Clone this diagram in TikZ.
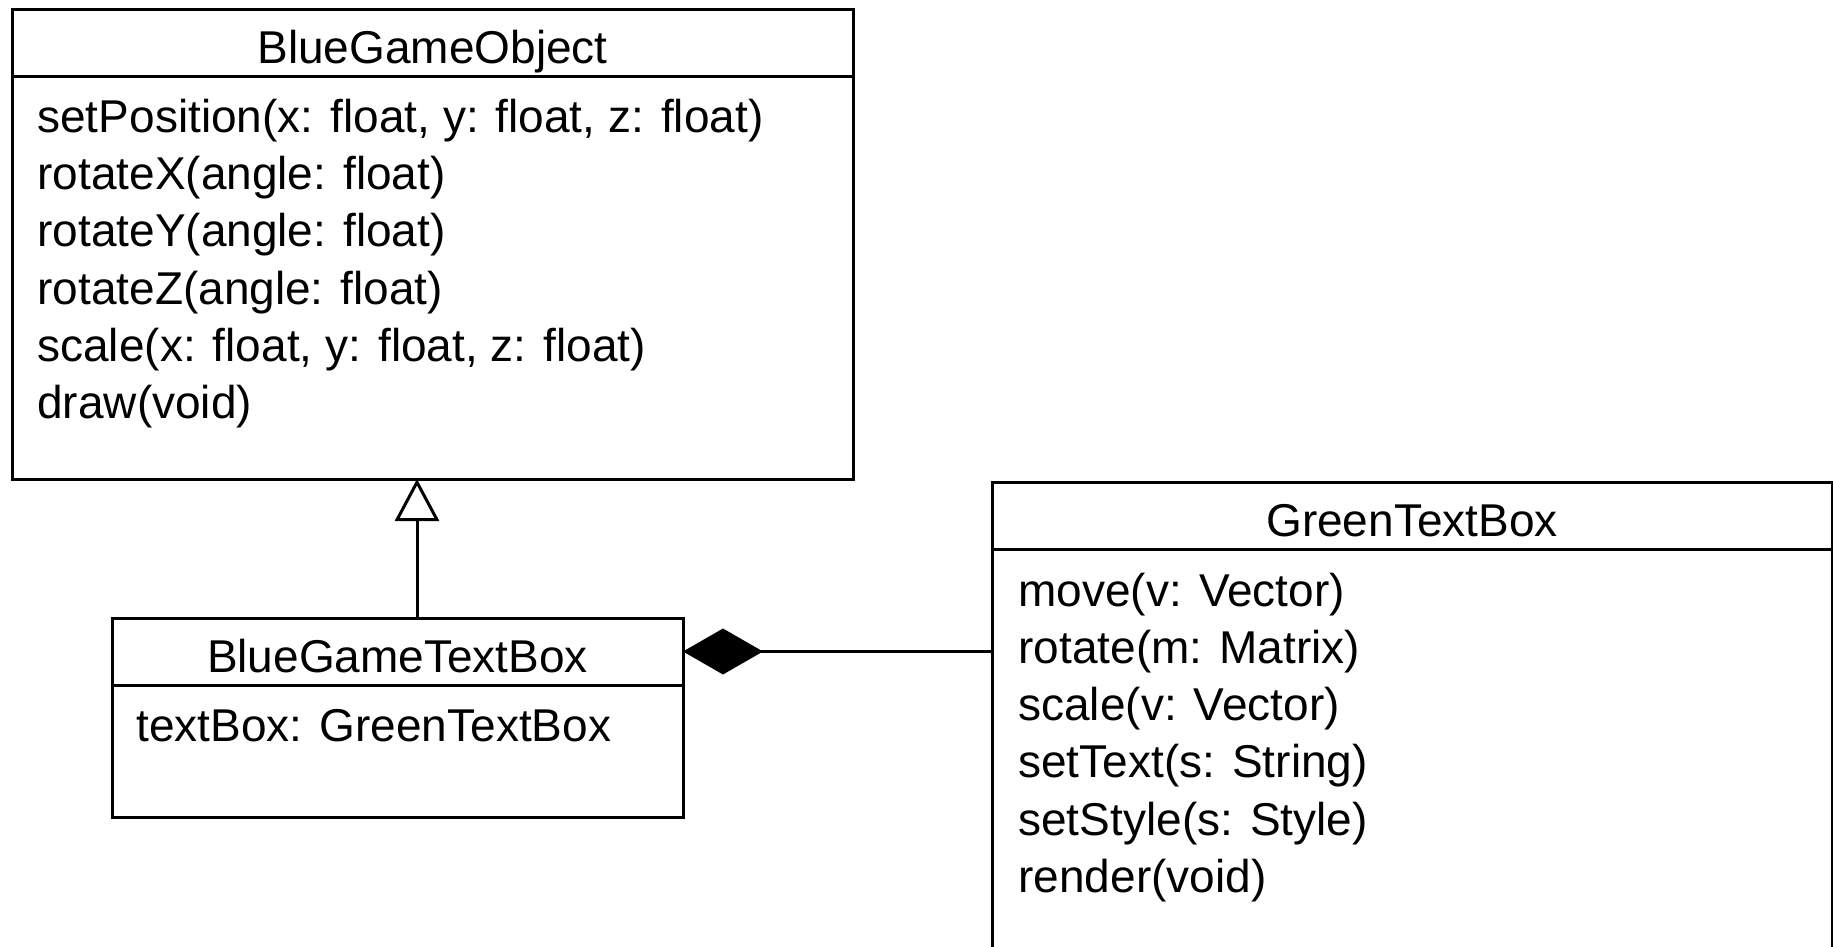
\documentclass[tikz,border=0pt]{standalone}
\usepackage{fontspec}
\setmainfont{Liberation Sans}
\usepackage{tikz}
\usetikzlibrary{positioning,arrows.meta}
\tikzset{classhead/.style={draw=black, rectangle, line width=1.5pt, inner sep=0pt, outer sep=0pt, minimum height=33.5pt, text height=20.5pt, text depth=0pt, font=\fontsize{23}{28}\selectfont}}
\tikzset{classbody/.style={draw=black, rectangle, line width=1.5pt, inner sep=0pt, outer sep=0pt}}
\tikzset{member/.style={anchor=base west, inner sep=0pt, font=\fontsize{23}{28}\selectfont}}
\tikzset{inherit/.style={line width=1.5pt, -{Triangle[open, width=22pt, length=21pt]}}}
\tikzset{compose/.style={line width=1.5pt, -{Diamond[width=23pt, length=40pt]}}}

\begin{document}
\begin{tikzpicture}[x=0.5pt, y=-0.5pt]
	\useasboundingbox (0,0) rectangle (1833,947);
	
	\node[classhead, anchor=north west, minimum width=420.5pt] (bgoHead) at (12,10) {BlueGameObject};
	\node[classbody, minimum width=420.5pt, minimum height=201pt] (bgoBody) [below=0pt of bgoHead] {};
	
	\node[classhead, anchor=north west, minimum width=285.5pt] (bgtbHead) at (112,618) {BlueGameTextBox};
	\node[classbody, minimum width=285.5pt, minimum height=66pt] (bgtbBody) [below=0pt of bgtbHead] {};
	
	\node[classhead, anchor=north west, minimum width=420pt] (gtbHead) at (992,482) {GreenTextBox};
	\node[classbody, minimum width=420pt, minimum height=203pt] (gtbBody) [below=0pt of gtbHead] {};
	
	\node[member] (bgoM1) at ([xshift=12.5pt, yshift=-28pt]bgoBody.north west) {setPosition(x: float, y: float, z: float)};
	\node (bgoM2) [below=28.5pt of bgoM1.base west, member] {rotateX(angle: float)};
	\node (bgoM3) [below=28.5pt of bgoM2.base west, member] {rotateY(angle: float)};
	\node (bgoM4) [below=28.5pt of bgoM3.base west, member] {rotateZ(angle: float)};
	\node (bgoM5) [below=28.5pt of bgoM4.base west, member] {scale(x: float, y: float, z: float)};
	\node (bgoM6) [below=28.5pt of bgoM5.base west, member] {draw(void)};
	
	\node[member] (bgtbM1) at ([xshift=12pt, yshift=-28pt]bgtbBody.north west) {textBox: GreenTextBox};
	
	\node[member] (gtbM1) at ([xshift=13pt, yshift=-28.5pt]gtbBody.north west) {move(v: Vector)};
	\node (gtbM2) [below=28.65pt of gtbM1.base west, member] {rotate(m: Matrix)};
	\node (gtbM3) [below=28.65pt of gtbM2.base west, member] {scale(v: Vector)};
	\node (gtbM4) [below=28.65pt of gtbM3.base west, member] {setText(s: String)};
	\node (gtbM5) [below=28.65pt of gtbM4.base west, member] {setStyle(s: Style)};
	\node (gtbM6) [below=28.65pt of gtbM5.base west, member] {render(void)};
	
	\draw[inherit] ([xshift=9.75pt]bgtbHead.north) -- ([xshift=9.75pt]bgtbHead.north |- bgoBody.south);
	\draw[compose] (gtbBody.west |- bgtbHead.east) -- (bgtbHead.east);
\end{tikzpicture}
\end{document}
